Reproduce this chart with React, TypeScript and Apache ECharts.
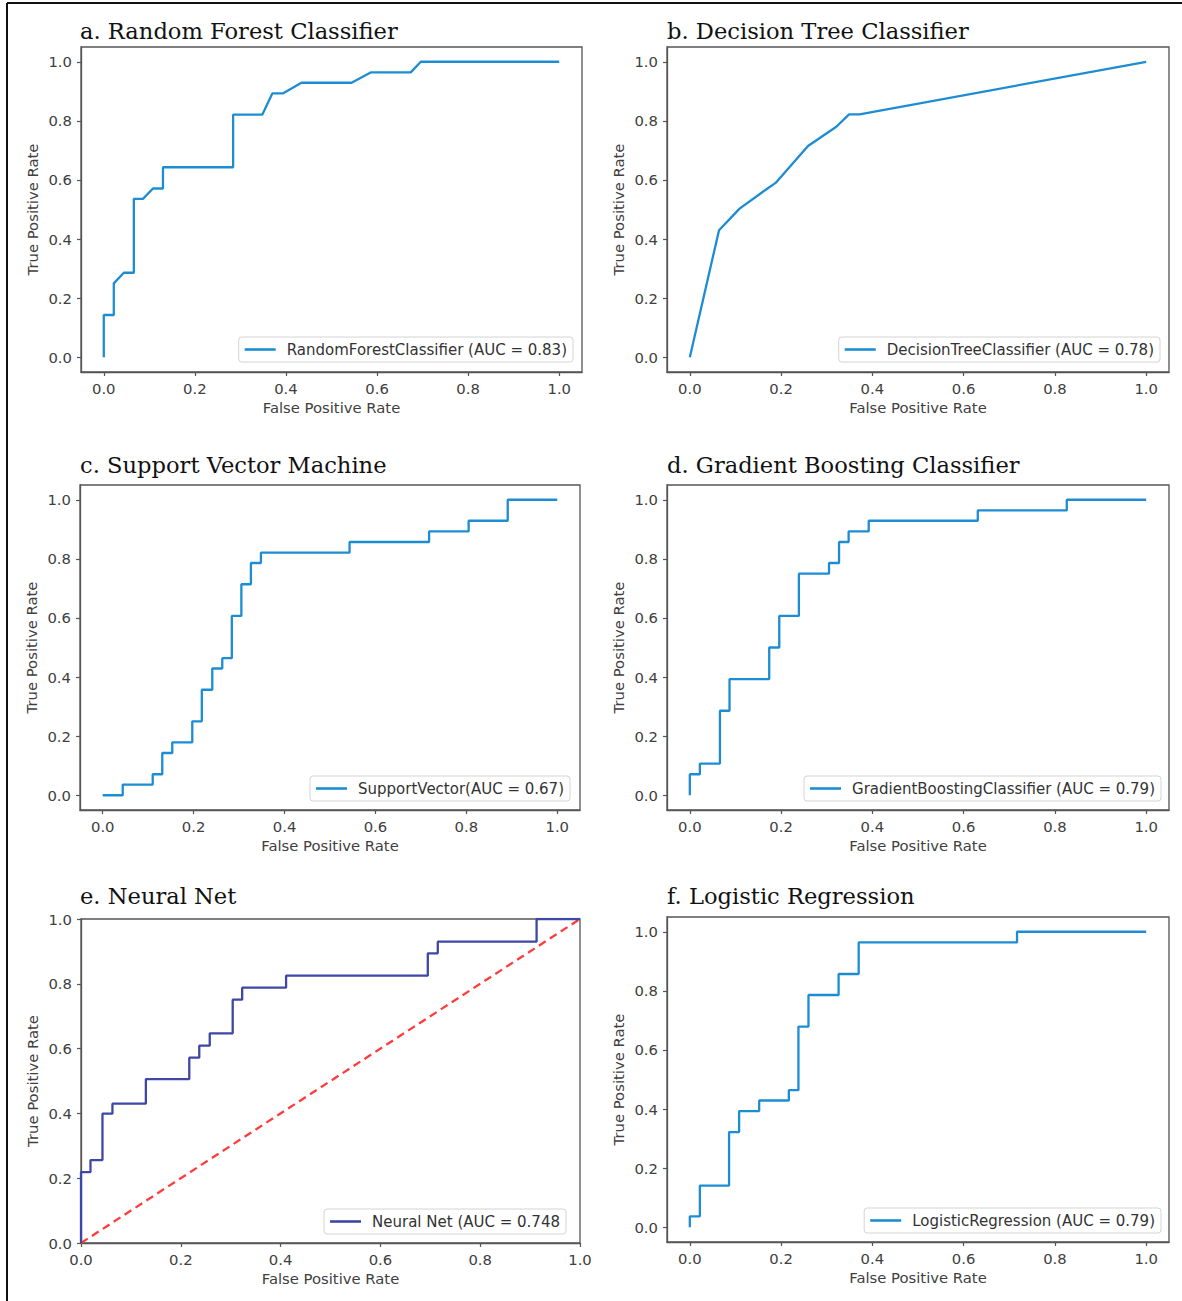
import React, { useEffect, useRef } from "react";
import * as echarts from "echarts";

// ---------- data ----------
const tickValues = [0, 0.2, 0.4, 0.6, 0.8, 1.0];

const rfFpr = [0, 0, 0.022, 0.022, 0.044, 0.066, 0.066, 0.086, 0.108, 0.13, 0.13, 0.284, 0.284, 0.348, 0.37, 0.393, 0.434, 0.544, 0.586, 0.674, 0.696, 1.0];
const rfTpr = [0, 0.143, 0.143, 0.25, 0.286, 0.286, 0.536, 0.536, 0.571, 0.571, 0.643, 0.643, 0.821, 0.821, 0.893, 0.893, 0.929, 0.929, 0.964, 0.964, 1.0, 1.0];

const dtFpr = [0, 0.064, 0.109, 0.171, 0.188, 0.259, 0.321, 0.349, 0.372, 1.0];
const dtTpr = [0, 0.43, 0.503, 0.572, 0.59, 0.715, 0.78, 0.822, 0.822, 1.0];

const svFpr = [0, 0.044, 0.044, 0.11, 0.11, 0.131, 0.131, 0.153, 0.153, 0.197, 0.197, 0.218, 0.218, 0.241, 0.241, 0.263, 0.263, 0.284, 0.284, 0.305, 0.305, 0.326, 0.326, 0.348, 0.348, 0.543, 0.543, 0.718, 0.718, 0.805, 0.805, 0.891, 0.891, 1.0];
const svTpr = [0, 0, 0.036, 0.036, 0.071, 0.071, 0.143, 0.143, 0.179, 0.179, 0.25, 0.25, 0.357, 0.357, 0.429, 0.429, 0.464, 0.464, 0.607, 0.607, 0.714, 0.714, 0.786, 0.786, 0.821, 0.821, 0.857, 0.857, 0.893, 0.893, 0.929, 0.929, 1.0, 1.0];

const gbFpr = [0, 0, 0.022, 0.022, 0.066, 0.066, 0.087, 0.087, 0.174, 0.174, 0.196, 0.196, 0.239, 0.239, 0.305, 0.305, 0.327, 0.327, 0.348, 0.348, 0.392, 0.392, 0.631, 0.631, 0.826, 0.826, 1.0];
const gbTpr = [0, 0.071, 0.071, 0.107, 0.107, 0.286, 0.286, 0.393, 0.393, 0.5, 0.5, 0.607, 0.607, 0.75, 0.75, 0.786, 0.786, 0.857, 0.857, 0.893, 0.893, 0.929, 0.929, 0.964, 0.964, 1.0, 1.0];

const nnFpr = [0, 0, 0.019, 0.019, 0.043, 0.043, 0.063, 0.063, 0.13, 0.13, 0.217, 0.217, 0.237, 0.237, 0.258, 0.258, 0.304, 0.304, 0.323, 0.323, 0.411, 0.411, 0.695, 0.695, 0.715, 0.715, 0.913, 0.913, 1.0];
const nnTpr = [0, 0.219, 0.219, 0.256, 0.256, 0.399, 0.399, 0.43, 0.43, 0.506, 0.506, 0.572, 0.572, 0.609, 0.609, 0.647, 0.647, 0.751, 0.751, 0.788, 0.788, 0.825, 0.825, 0.894, 0.894, 0.93, 0.93, 1.0, 1.0];
const chanceFpr = [0, 1];
const chanceTpr = [0, 1];

const lrFpr = [0, 0, 0.022, 0.022, 0.086, 0.086, 0.108, 0.108, 0.152, 0.152, 0.217, 0.217, 0.238, 0.238, 0.26, 0.26, 0.326, 0.326, 0.37, 0.37, 0.717, 0.717, 1.0];
const lrTpr = [0, 0.037, 0.037, 0.141, 0.141, 0.322, 0.322, 0.393, 0.393, 0.429, 0.429, 0.464, 0.464, 0.679, 0.679, 0.786, 0.786, 0.857, 0.857, 0.964, 0.964, 1.0, 1.0];

const titles = [
  "a. Random Forest Classifier",
  "b. Decision Tree Classifier",
  "c. Support Vector Machine",
  "d. Gradient Boosting Classifier",
  "e. Neural Net",
  "f. Logistic Regression",
];
const seriesNames = [
  "RandomForestClassifier (AUC = 0.83)",
  "DecisionTreeClassifier (AUC = 0.78)",
  "SupportVector(AUC = 0.67)",
  "GradientBoostingClassifier (AUC = 0.79)",
  "Neural Net (AUC = 0.748",
  "LogisticRegression (AUC = 0.79)",
];
const xTitle = "False Positive Rate";
const yTitle = "True Positive Rate";

// ---------- layout / style ----------
const W = 1182;
const H = 1301;
const BLUE = "#1c8dd2";
const NAVY = "#3f47a6";
const RED = "#ff3b3b";
const AXIS = "#555555";
const TXT = "#404040";
const SANS = "DejaVu Sans";
const SERIF = "DejaVu Serif";

const panels = [
  { fpr: rfFpr, tpr: rfTpr, grid: { left: 81, top: 47, width: 501, height: 325 }, pad: true, legend: { right: W - 573, top: 337 }, title: [80, 31], color: BLUE },
  { fpr: dtFpr, tpr: dtTpr, grid: { left: 667, top: 47, width: 502, height: 325 }, pad: true, legend: { right: W - 1160, top: 337 }, title: [667, 31], color: BLUE },
  { fpr: svFpr, tpr: svTpr, grid: { left: 80, top: 485, width: 500, height: 325 }, pad: true, legend: { right: W - 570, top: 776 }, title: [80, 465], color: BLUE },
  { fpr: gbFpr, tpr: gbTpr, grid: { left: 667, top: 485, width: 502, height: 325 }, pad: true, legend: { right: W - 1161, top: 776 }, title: [667, 465], color: BLUE },
  { fpr: nnFpr, tpr: nnTpr, grid: { left: 81, top: 919, width: 499, height: 324 }, pad: false, legend: { right: W - 566, top: 1209 }, title: [80, 896], color: NAVY },
  { fpr: lrFpr, tpr: lrTpr, grid: { left: 667, top: 917, width: 502, height: 325 }, pad: true, legend: { right: W - 1161, top: 1208 }, title: [667, 896], color: BLUE },
];

const zip = (xs: number[], ys: number[]) => xs.map((x, i) => [x, ys[i]]);

function buildOption() {
  const grid: any[] = [];
  const xAxis: any[] = [];
  const yAxis: any[] = [];
  const series: any[] = [];
  const legend: any[] = [];
  const graphic: any[] = [
    { type: "line", shape: { x1: 7, y1: 3, x2: W + 10, y2: 3 }, style: { stroke: "#111", lineWidth: 2 } },
    { type: "line", shape: { x1: 7, y1: 3, x2: 7, y2: H + 10 }, style: { stroke: "#111", lineWidth: 2 } },
  ];

  panels.forEach((p, i) => {
    grid.push({ ...p.grid, show: true, borderColor: AXIS, borderWidth: 1.3, backgroundColor: "#fff", containLabel: false });
    const lo = p.pad ? -0.05 : 0;
    const hi = p.pad ? 1.05 : 1;
    const common = {
      type: "value",
      gridIndex: i,
      min: lo,
      max: hi,
      splitLine: { show: false },
      axisLine: { show: true, onZero: false, lineStyle: { color: AXIS, width: 1.3 } },
      axisTick: { show: true, length: 4, customValues: tickValues, lineStyle: { color: AXIS, width: 1.2 } },
      nameLocation: "middle",
      nameTextStyle: { fontFamily: SANS, fontSize: 14.8, color: TXT },
    };
    xAxis.push({
      ...common,
      name: xTitle,
      nameGap: 28,
      axisLabel: { customValues: tickValues, margin: 9, fontFamily: SANS, fontSize: 14.8, color: TXT, formatter: (v: number) => v.toFixed(1) },
    });
    yAxis.push({
      ...common,
      name: yTitle,
      nameGap: 41,
      axisLabel: { customValues: tickValues, margin: 9, fontFamily: SANS, fontSize: 14.8, color: TXT, formatter: (v: number) => v.toFixed(1) },
    });
    series.push({
      type: "line",
      name: seriesNames[i],
      xAxisIndex: i,
      yAxisIndex: i,
      data: zip(p.fpr, p.tpr),
      symbol: "none",
      lineStyle: { color: p.color, width: 2.3 },
      itemStyle: { color: p.color },
      z: 3,
    });
    if (i === 4) {
      series.push({
        type: "line",
        name: "chance",
        xAxisIndex: i,
        yAxisIndex: i,
        data: zip(chanceFpr, chanceTpr),
        symbol: "none",
        lineStyle: { color: RED, width: 2.3, type: [8, 5] },
        itemStyle: { color: RED },
        z: 2,
      });
    }
    legend.push({
      data: [seriesNames[i]],
      right: p.legend.right,
      top: p.legend.top,
      orient: "horizontal",
      icon: "rect",
      itemWidth: 31,
      itemHeight: 2.6,
      borderColor: "#d4d4d4",
      borderWidth: 1,
      borderRadius: 3,
      backgroundColor: "rgba(255,255,255,0.85)",
      padding: [4, 6, 4, 6],
      selectedMode: false,
      textStyle: { fontFamily: SANS, fontSize: 15, color: "#333", padding: [0, 0, 0, 6], lineHeight: 17 },
    });
    graphic.push({
      type: "text",
      x: p.title[0],
      y: p.title[1],
      style: { text: titles[i], font: `22.6px '${SERIF}'`, fill: "#111", textVerticalAlign: "middle", verticalAlign: "middle" },
    });
  });

  return { animation: false, backgroundColor: "#fff", grid, xAxis, yAxis, series, legend, graphic };
}

export default function App() {
  const ref = useRef<HTMLDivElement>(null);
  useEffect(() => {
    if (!ref.current) return;
    const chart = echarts.init(ref.current, undefined, { renderer: "svg" });
    chart.setOption(buildOption() as any);
    return () => chart.dispose();
  }, []);
  return <div ref={ref} style={{ position: "absolute", left: 0, top: 0, width: W, height: H }} />;
}
